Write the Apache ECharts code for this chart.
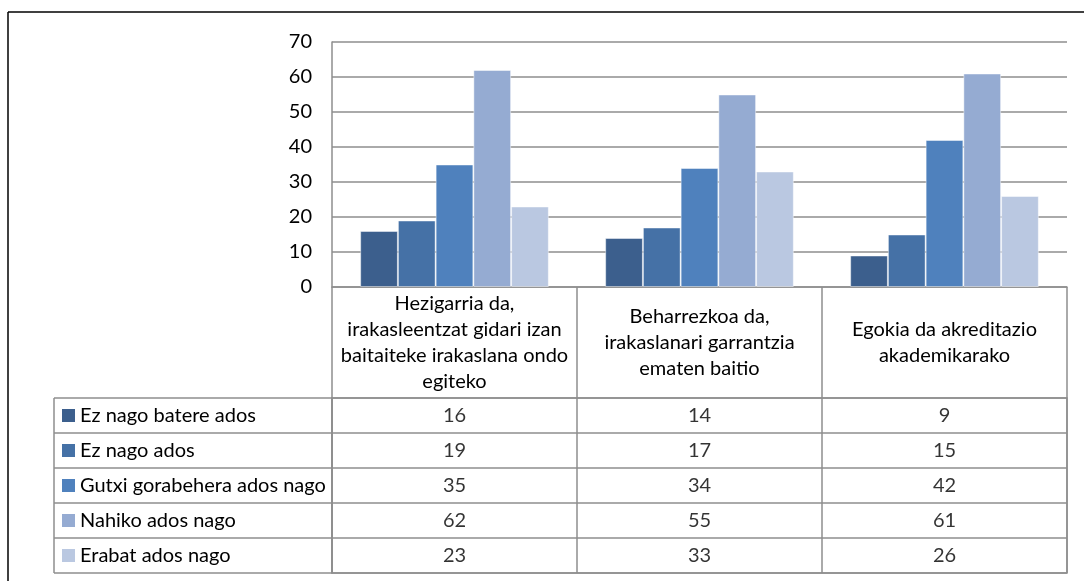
<!DOCTYPE html>
<html>
<head>
<meta charset="utf-8">
<script src="https://cdn.jsdelivr.net/npm/echarts@6/dist/echarts.min.js"></script>
<style>
  html, body { margin: 0; padding: 0; background: #fff; }
  #chart { width: 1084px; height: 581px; }
</style>
</head>
<body>
<div id="chart"></div>
<script>
const categories = [
  "Hezigarria da,\nirakasleentzat gidari izan\nbaitaiteke irakaslana ondo\negiteko",
  "Beharrezkoa da,\nirakaslanari garrantzia\nematen baitio",
  "Egokia da akreditazio\nakademikarako",
];
const seriesNames = [
  "Ez nago batere ados",
  "Ez nago ados",
  "Gutxi gorabehera ados nago",
  "Nahiko ados nago",
  "Erabat ados nago",
];
const ezBatere = [16, 14, 9];
const ezAdos = [19, 17, 15];
const gutxiGora = [35, 34, 42];
const nahiko = [62, 55, 61];
const erabat = [23, 33, 26];
const yTicks = [0, 10, 20, 30, 40, 50, 60, 70];

const values = [ezBatere, ezAdos, gutxiGora, nahiko, erabat];
const colors = ["#3c5f8d", "#4571a6", "#4f81bd", "#95abd2", "#bac8e1"];
const gray = "#8e8e8e";
const font = "Lato";
const fs = 20;

// layout
const plotLeft = 332, plotTop = 42, plotW = 735, plotH = 245;
const headerH = 111;
const tableTop = plotTop + plotH + headerH, tableH = 175;
const tableLeft = 54;

const chart = echarts.init(document.getElementById("chart"));

const rich = { t: { fontFamily: font, fontSize: fs, color: "#000", padding: [0, 0, 0, 5] } };
colors.forEach((c, i) => {
  rich["s" + i] = { width: 13, height: 13, backgroundColor: c };
});

const cellData = [];
values.forEach((arr, r) => arr.forEach((v, c) => cellData.push([c, r, v])));

const option = {
  animation: false,
  textStyle: { fontFamily: font },
  grid: [
    { left: plotLeft, top: plotTop, width: plotW, height: plotH, outerBoundsMode: "none" },
    {
      left: plotLeft, top: tableTop, width: plotW, height: tableH, outerBoundsMode: "none",
      show: true, borderColor: gray, borderWidth: 1.5, backgroundColor: "transparent",
    },
  ],
  xAxis: [
    {
      type: "category",
      data: categories,
      axisLine: { lineStyle: { color: gray, width: 1.5 } },
      axisTick: { show: true, interval: 0, length: headerH, lineStyle: { color: gray, width: 1.5 } },
      axisLabel: {
        interval: 0,
        margin: headerH / 2,
        verticalAlign: "middle",
        lineHeight: 26,
        fontSize: fs,
        fontFamily: font,
        color: "#000",
        align: "center",
      },
    },
    {
      type: "category",
      gridIndex: 1,
      data: categories,
      position: "top",
      axisLine: { show: false },
      axisTick: { show: false },
      axisLabel: { show: false },
      splitLine: { show: true, interval: 0, lineStyle: { color: gray, width: 1.5 } },
    },
  ],
  yAxis: [
    {
      type: "value",
      min: yTicks[0],
      max: yTicks[yTicks.length - 1],
      interval: 10,
      axisLine: { show: true, lineStyle: { color: gray, width: 1.5 } },
      axisTick: { show: false },
      axisLabel: { margin: 20, fontSize: fs, fontFamily: font, color: "#000" },
      splitLine: { lineStyle: { color: gray, width: 1.5 } },
    },
    {
      type: "category",
      gridIndex: 1,
      data: seriesNames,
      inverse: true,
      axisLine: { show: true, lineStyle: { color: gray, width: 1.5 } },
      axisTick: { show: true, interval: 0, length: plotLeft - tableLeft, lineStyle: { color: gray, width: 1.5 } },
      splitLine: { show: true, interval: 0, lineStyle: { color: gray, width: 1.5 } },
      axisLabel: {
        interval: 0,
        align: "left",
        margin: plotLeft - tableLeft - 8,
        formatter: (v, i) => `{s${i}|}{t|${v}}`,
        rich,
      },
    },
  ],
  series: [
    ...seriesNames.map((name, i) => ({
      name,
      type: "bar",
      data: values[i],
      barGap: "0%",
      barCategoryGap: "23%",
      itemStyle: { color: colors[i], borderColor: "rgba(255,255,255,0.45)", borderWidth: 1 },
    })),
    {
      type: "scatter",
      xAxisIndex: 1,
      yAxisIndex: 1,
      data: cellData,
      symbolSize: 2,
      itemStyle: { color: "rgba(0,0,0,0)" },
      label: {
        show: true,
        position: "inside",
        formatter: (p) => String(p.value[2]),
        fontFamily: font,
        fontSize: fs,
        color: "#000",
      },
    },
  ],
  graphic: [
    // outer frame (top and left edge)
    { type: "line", shape: { x1: 8, y1: 12, x2: 1084, y2: 12 }, style: { stroke: "#000", lineWidth: 1.5 } },
    { type: "line", shape: { x1: 8, y1: 12, x2: 8, y2: 581 }, style: { stroke: "#000", lineWidth: 1.5 } },
    // table left border
    {
      type: "line",
      shape: { x1: tableLeft, y1: tableTop, x2: tableLeft, y2: tableTop + tableH },
      style: { stroke: gray, lineWidth: 1.5 },
    },
  ],
};

chart.setOption(option);
</script>
</body>
</html>
